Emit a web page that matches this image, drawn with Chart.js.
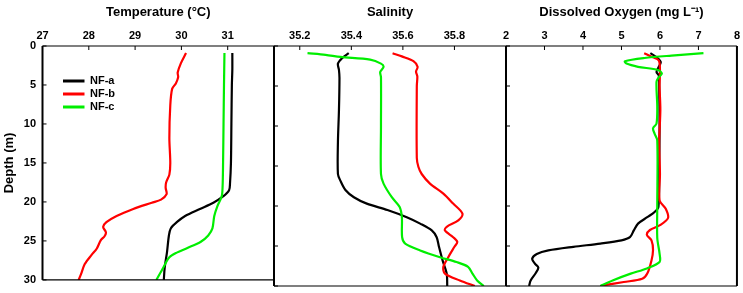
<!DOCTYPE html>
<html>
<head>
<meta charset="utf-8">
<script src="https://cdn.jsdelivr.net/npm/chart.js@4.4.0/dist/chart.umd.min.js"></script>
<style>
  body { margin: 0; background: #fff; }
  #wrap { position: relative; width: 743px; height: 293px; }
  #wrap canvas { position: absolute; left: 0; top: 0; }
</style>
</head>
<body>
<div id="wrap">
  <canvas id="tempChart" width="743" height="293"></canvas>
  <canvas id="salChart" width="743" height="293"></canvas>
  <canvas id="oxyChart" width="743" height="293"></canvas>
</div>
<script>
// Profile data (depth in m)
const stations = ['NF-a', 'NF-b', 'NF-c'];
const stationColors = ['#000000', '#ff0000', '#00ee00'];

const depthTicks = [0, 5, 10, 15, 20, 25, 30];
const tempTicks = [27, 28, 29, 30, 31];
const salTicks = [35.2, 35.4, 35.6, 35.8];
const oxyTicks = [2, 3, 4, 5, 6, 7, 8];

// Temperature (°C)
const tempDepthA = [0.9, 3, 5, 10, 15, 17.6, 18.5, 19.3, 20.1, 20.9, 21.8, 22.6, 23.4, 24.3, 26.4, 28.4, 30];
const tempA = [31.10, 31.10, 31.09, 31.08, 31.07, 31.05, 31.03, 30.90, 30.69, 30.40, 30.08, 29.90, 29.77, 29.73, 29.69, 29.64, 29.62];
const tempDepthB = [0.9, 2.2, 3.4, 4.0, 4.8, 5.5, 7.6, 11.8, 15, 16.5, 17.5, 18.2, 19, 19.7, 20.1, 20.9, 21.8, 22.6, 23.2, 23.9, 24.4, 24.9, 26, 26.8, 28, 29.3, 30];
const tempB = [30.10, 29.99, 29.92, 29.93, 29.88, 29.80, 29.76, 29.74, 29.76, 29.74, 29.67, 29.66, 29.68, 29.56, 29.36, 28.96, 28.60, 28.38, 28.31, 28.37, 28.34, 28.26, 28.17, 28.06, 27.91, 27.83, 27.78];
const tempDepthC = [0.9, 5, 10, 15, 18, 19.3, 20.5, 21.8, 23.4, 24.3, 25.1, 25.9, 26.5, 27.1, 28.4, 30];
const tempC = [30.93, 30.92, 30.91, 30.90, 30.89, 30.87, 30.78, 30.71, 30.67, 30.58, 30.42, 30.13, 29.90, 29.74, 29.61, 29.46];

// Salinity
const salDepthA = [0.9, 1.5, 2.2, 3, 4, 8, 12, 16, 16.8, 18, 18.9, 19.7, 20.5, 21.4, 22.2, 23.05, 23.9, 25.1, 26.8, 28.45, 30];
const salA = [35.39, 35.365, 35.348, 35.352, 35.354, 35.352, 35.348, 35.348, 35.357, 35.377, 35.41, 35.46, 35.54, 35.615, 35.667, 35.712, 35.731, 35.74, 35.754, 35.77, 35.772];
const salDepthB = [0.9, 1.3, 1.9, 2.6, 3.2, 3.8, 5, 14, 15.1, 16, 17.2, 18.45, 19.7, 20.95, 21.8, 22.6, 23.05, 23.9, 24.5, 25.1, 26.4, 27.6, 28.45, 29.3, 30];
const salB = [35.56, 35.596, 35.641, 35.657, 35.651, 35.656, 35.654, 35.654, 35.66, 35.673, 35.705, 35.757, 35.795, 35.831, 35.815, 35.77, 35.763, 35.795, 35.811, 35.80, 35.776, 35.757, 35.763, 35.821, 35.879];
const salDepthC = [0.9, 1.1, 1.37, 1.7, 2.2, 2.6, 3.25, 3.9, 10, 16, 17.2, 18.9, 20.1, 21.4, 23.9, 24.7, 25.55, 26.4, 27.0, 27.6, 28.45, 29.3, 30];
const salC = [35.23, 35.30, 35.358, 35.473, 35.515, 35.525, 35.512, 35.515, 35.515, 35.515, 35.525, 35.557, 35.587, 35.596, 35.597, 35.609, 35.667, 35.744, 35.808, 35.853, 35.87, 35.888, 35.914];

// Dissolved oxygen (mg L-1)
const oxyDepthA = [0.9, 1.4, 2.0, 2.6, 3.25, 3.7, 5, 10, 15, 20.1, 20.75, 21.4, 22.2, 23.05, 23.9, 24.3, 24.7, 25.1, 25.55, 26.0, 26.6, 27.2, 27.7, 28.4, 29.3, 30];
const oxyA = [5.75, 5.91, 6.02, 5.97, 5.91, 5.97, 5.98, 5.99, 5.98, 5.96, 5.86, 5.67, 5.43, 5.32, 5.22, 5.0, 4.45, 3.75, 3.1, 2.8, 2.68, 2.75, 2.84, 2.77, 2.64, 2.60];
const oxyDepthB = [0.9, 1.4, 1.8, 3, 5, 8, 12, 16, 19.3, 20.35, 21.5, 22.4, 23.0, 23.6, 24.3, 25.5, 26.8, 28.45, 29.1, 29.5, 29.9, 30];
const oxyB = [5.59, 5.82, 5.97, 6.0, 5.99, 6.01, 5.98, 6.0, 5.99, 6.15, 6.21, 6.0, 5.74, 5.66, 5.78, 5.82, 5.78, 5.67, 5.54, 5.06, 4.55, 4.45];
const oxyDepthC = [0.9, 1.2, 1.5, 1.9, 2.2, 2.6, 3.0, 3.45, 3.9, 4.5, 7.6, 9.7, 10.3, 10.95, 11.8, 20, 24, 25.95, 27, 27.8, 28.45, 29.3, 30];
const oxyC = [7.13, 6.3, 5.6, 5.09, 5.13, 5.43, 5.95, 6.05, 5.97, 5.91, 5.93, 5.91, 5.82, 5.86, 5.93, 5.93, 5.93, 5.99, 5.99, 5.66, 5.24, 4.77, 4.45];

const FONT = 'Arial, "Liberation Sans", Helvetica, sans-serif';
const tickFont = { family: FONT, size: 11, weight: 'bold' };
const titleFont = { family: FONT, size: 13, weight: 'bold' };

function makeSet(i, depths, values) {
    return {
        label: stations[i],
        data: values.map((v, k) => ({ x: v, y: depths[k] })),
        showLine: true,
        borderColor: stationColors[i],
        backgroundColor: stationColors[i],
        borderWidth: 2.2,
        pointRadius: 0,
        tension: 0.3,
        order: 3 - i
    };
}

// box round each panel, with ticks pointing inwards
const framePlugin = {
    id: 'frame',
    afterDatasetsDraw(chart) {
        const { ctx, chartArea: a, scales } = chart;
        const seg = (x1, y1, x2, y2) => {
            ctx.beginPath();
            ctx.moveTo(x1, y1);
            ctx.lineTo(x2, y2);
            ctx.stroke();
        };
        ctx.save();
        ctx.strokeStyle = '#000';
        ctx.lineWidth = 2;
        seg(a.left, a.top, a.left, a.bottom);
        seg(a.right, a.top, a.right, a.bottom);
        ctx.lineWidth = 1.2;
        seg(a.left, a.top, a.right, a.top);
        seg(a.left, a.bottom, a.right, a.bottom);
        ctx.lineWidth = 1;
        scales.x.ticks.forEach(t => {
            const px = scales.x.getPixelForValue(t.value);
            seg(px, a.top, px, a.top + 4);
        });
        scales.y.ticks.forEach(t => {
            const py = scales.y.getPixelForValue(t.value);
            seg(a.left, py, a.left + 4, py);
        });
        ctx.restore();
    }
};

// legend sits inside the temperature panel
const legendPlugin = {
    id: 'innerLegend',
    afterDraw(chart) {
        const { ctx, chartArea: a } = chart;
        ctx.save();
        ctx.font = 'bold 11px ' + FONT;
        ctx.textBaseline = 'middle';
        ctx.fillStyle = '#000';
        chart.data.datasets.forEach((ds, i) => {
            const y = a.top + 35 + i * 13;
            ctx.strokeStyle = ds.borderColor;
            ctx.lineWidth = 3;
            ctx.beginPath();
            ctx.moveTo(a.left + 20.5, y);
            ctx.lineTo(a.left + 42, y);
            ctx.stroke();
            ctx.fillText(ds.label, a.left + 47.5, y);
        });
        ctx.restore();
    }
};

function makeOptions(cfg) {
    return {
        responsive: false,
        animation: false,
        devicePixelRatio: 1,
        layout: { padding: { left: cfg.padLeft, right: cfg.padRight, top: 0, bottom: 7 } },
        plugins: { legend: { display: false }, tooltip: { enabled: false } },
        scales: {
            x: {
                type: 'linear',
                position: 'top',
                min: cfg.min,
                max: cfg.max,
                afterBuildTicks: s => { s.ticks = cfg.ticks.map(v => ({ value: v })); },
                afterFit: s => { s.height = 46; },
                grid: { display: false, drawTicks: false },
                border: { display: false },
                ticks: {
                    font: tickFont,
                    color: '#000',
                    padding: 3,
                    autoSkip: false,
                    maxRotation: 0,
                    callback: cfg.fmt
                },
                title: {
                    display: true,
                    text: cfg.title,
                    font: titleFont,
                    color: '#000',
                    padding: { top: 5, bottom: 0 }
                }
            },
            y: {
                type: 'linear',
                reverse: true,
                min: 0,
                max: 30,
                display: cfg.showDepth,
                afterBuildTicks: s => { s.ticks = depthTicks.map(v => ({ value: v })); },
                afterFit: s => { s.width = cfg.showDepth ? 42.5 : 0; },
                grid: { display: false, drawTicks: false },
                border: { display: false },
                ticks: { font: tickFont, color: '#000', padding: 6.5, callback: v => String(v) },
                title: {
                    display: true,
                    text: 'Depth (m)',
                    font: titleFont,
                    color: '#000',
                    padding: { top: 2, bottom: 0 }
                }
            }
        }
    };
}

new Chart(document.getElementById('tempChart'), {
    type: 'scatter',
    data: { datasets: [makeSet(0, tempDepthA, tempA), makeSet(1, tempDepthB, tempB), makeSet(2, tempDepthC, tempC)] },
    options: makeOptions({
        min: 27, max: 32, ticks: tempTicks, title: 'Temperature (°C)',
        padLeft: 0, padRight: 743 - 274, showDepth: true, fmt: v => String(v)
    }),
    plugins: [framePlugin, legendPlugin]
});

new Chart(document.getElementById('salChart'), {
    type: 'scatter',
    data: { datasets: [makeSet(0, salDepthA, salA), makeSet(1, salDepthB, salB), makeSet(2, salDepthC, salC)] },
    options: makeOptions({
        min: 35.1, max: 36.0, ticks: salTicks, title: 'Salinity',
        padLeft: 274, padRight: 743 - 506, showDepth: false, fmt: v => v.toFixed(1)
    }),
    plugins: [framePlugin]
});

new Chart(document.getElementById('oxyChart'), {
    type: 'scatter',
    data: { datasets: [makeSet(0, oxyDepthA, oxyA), makeSet(1, oxyDepthB, oxyB), makeSet(2, oxyDepthC, oxyC)] },
    options: makeOptions({
        min: 2, max: 8, ticks: oxyTicks, title: 'Dissolved Oxygen (mg L\u207B\u00B9)',
        padLeft: 506, padRight: 743 - 738, showDepth: false, fmt: v => String(v)
    }),
    plugins: [framePlugin]
});
</script>
</body>
</html>
